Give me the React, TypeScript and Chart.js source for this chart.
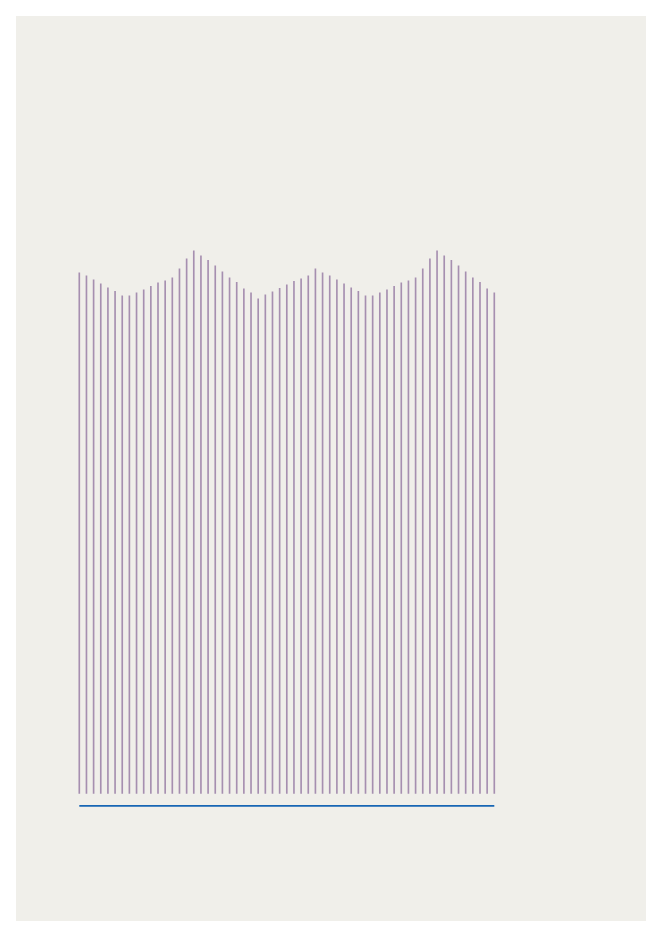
import React, { useEffect, useRef } from "react";
import { Chart, registerables } from "chart.js";

Chart.register(...registerables);

const categories: string[] = Array.from({ length: 59 }, (_, i) => String(i + 1));

const values: number[] = [
  104.1, 103.5, 102.7, 101.9, 101.1, 100.4, 99.5, 99.5, 100.1, 100.7,
  101.4, 102.1, 102.5, 103.1, 104.9, 106.9, 108.5, 107.5, 106.6, 105.5,
  104.3, 103.1, 102.2, 100.9, 100.1, 98.9, 99.7, 100.3, 101.0, 101.7,
  102.4, 102.9, 103.5, 104.9, 104.1, 103.5, 102.7, 101.9, 101.1, 100.4,
  99.5, 99.5, 100.1, 100.7, 101.4, 102.1, 102.5, 103.1, 104.9, 106.9,
  108.5, 107.5, 106.6, 105.5, 104.3, 103.1, 102.2, 100.9, 100.1,
];

const baselineValue = -2.5;
const baseline: number[] = categories.map(() => baselineValue);

export default function App() {
  const ref = useRef<HTMLCanvasElement | null>(null);

  useEffect(() => {
    if (!ref.current) return;
    const chart = new Chart(ref.current, {
      type: "bar",
      data: {
        labels: categories,
        datasets: [
          {
            type: "bar",
            data: values,
            backgroundColor: "#a68fb0",
            borderWidth: 0,
            barThickness: 1,
            clip: false as any,
            order: 2,
          },
          {
            type: "line",
            data: baseline,
            borderColor: "#1766b4",
            borderWidth: 1.6,
            pointRadius: 0,
            fill: false,
            clip: false as any,
            order: 1,
          } as any,
        ],
      },
      options: {
        animation: false,
        responsive: false,
        devicePixelRatio: window.devicePixelRatio || 1,
        layout: {
          padding: { left: 63.3, right: 151.7, top: 227.33, bottom: 112.67 },
        },
        plugins: {
          legend: { display: false },
          tooltip: { enabled: false },
          title: { display: false },
        },
        scales: {
          x: { display: false, offset: false },
          y: { display: false, min: -3, max: 110 },
        },
      },
    });
    return () => chart.destroy();
  }, []);

  return (
    <div
      style={{
        margin: 8,
        width: 630,
        height: 905,
        background: "#f0efea",
      }}
    >
      <canvas ref={ref} width={630} height={905} style={{ display: "block", width: 630, height: 905 }} />
    </div>
  );
}
